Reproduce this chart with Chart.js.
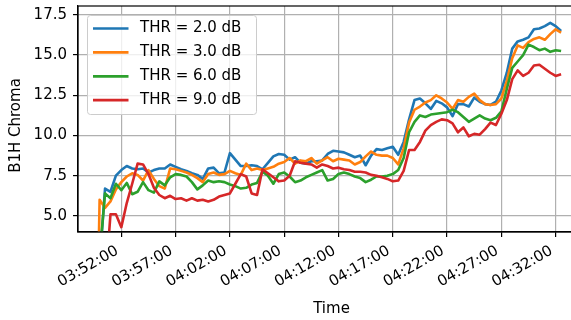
<!DOCTYPE html>
<html>
<head>
<meta charset="utf-8">
<title>B1H Chroma</title>
<script src="https://cdn.jsdelivr.net/npm/chart.js@4.4.0/dist/chart.umd.min.js"></script>
<style>
  html, body { margin: 0; padding: 0; overflow: hidden; background: #fff; }
  #chroma { display: block; }
</style>
</head>
<body>
<canvas id="chroma" width="600" height="320"></canvas>
<script>
// samples every 30 s, first one at 03:49:30
const firstSample = '03:49:30';
const sampleStep = 0.5; // minutes

const tickLabels = ['03:52:00', '03:57:00', '04:02:00', '04:07:00', '04:12:00',
                    '04:17:00', '04:22:00', '04:27:00', '04:32:00'];
const yTicks = [5.0, 7.5, 10.0, 12.5, 15.0, 17.5];

const seriesLabels = ['THR = 2.0 dB', 'THR = 3.0 dB', 'THR = 6.0 dB', 'THR = 9.0 dB'];
const seriesColors = ['#1f77b4', '#ff7f0e', '#2ca02c', '#d62728'];

const thr2 = [null,
  2.0, 6.7, 6.5, 7.5, 7.85, 8.1, 7.95, 7.9, 7.95, 7.7, 7.85, 7.95, 7.95, 8.2, 8.05,
  7.9, 7.8, 7.65, 7.55, 7.3, 7.95, 8.0, 7.65, 7.7, 8.9,
  8.5, 8.1, 8.1, 8.15, 8.1, 7.9, 8.3, 8.7, 8.85, 8.8,
  8.5, 8.65, 8.3, 8.25, 8.4, 8.4, 8.45, 8.85, 9.05, 9.0,
  8.95, 8.8, 8.65, 8.75, 8.15, 8.75, 9.15, 9.1, 9.2, 9.3,
  8.8, 9.6, 11.0, 12.2, 12.3, 12.0, 11.65, 12.15, 12.0, 11.75,
  11.2, 11.95, 11.95, 11.8, 12.35, 12.1, 11.95, 11.9, 12.1, 12.8,
  13.9, 15.4, 15.85, 15.95, 16.1, 16.6, 16.65, 16.8, 17.0, 16.8,
  16.5];

const thr3 = [-12,
  6.0, 5.5, 5.9, 6.65, 7.1, 7.45, 7.65, 7.55, 7.2, 7.85, 7.3, 6.85, 6.7, 7.95, 7.9,
  7.8, 7.7, 7.55, 7.35, 7.1, 7.6, 7.7, 7.55, 7.6, 7.8,
  7.65, 7.55, 8.25, 7.85, 7.95, 7.85, 7.95, 8.05, 8.25, 8.35,
  8.6, 8.25, 8.45, 8.4, 8.6, 8.25, 8.45, 8.65, 8.4, 8.55,
  8.5, 8.45, 8.2, 8.35, 8.7, 9.0, 8.8, 8.75, 8.75, 8.6,
  8.2, 9.2, 10.8, 11.6, 11.8, 12.05, 12.2, 12.5, 12.3, 12.05,
  11.65, 12.2, 12.1, 12.4, 12.6, 12.2, 11.95, 11.9, 11.95, 12.3,
  13.4, 14.8, 15.6, 15.45, 15.8, 16.0, 16.1, 15.95, 16.3, 16.6,
  16.4];

const thr6 = [null,
  2.5, 6.4, 6.1, 7.0, 6.6, 7.05, 6.35, 6.5, 7.1, 6.6, 6.45, 7.15, 6.9, 7.4, 7.6,
  7.55, 7.45, 7.1, 6.65, 6.9, 7.2, 7.1, 7.15, 7.1, 6.95,
  6.85, 6.7, 6.75, 6.95, 7.05, 7.75, 7.5, 7.0, 7.6, 7.7,
  7.45, 7.1, 7.2, 7.4, 7.55, 7.7, 7.85, 7.2, 7.3, 7.6,
  7.7, 7.6, 7.45, 7.35, 7.1, 7.25, 7.45, 7.45, 7.5, 7.6,
  7.85, 8.6, 10.2, 10.85, 11.25, 11.15, 11.3, 11.35, 11.4, 11.45,
  11.6, 11.45, 11.15, 10.85, 11.05, 11.25, 11.05, 10.95, 11.1, 11.5,
  12.9, 14.2, 14.6, 15.0, 15.65, 15.5, 15.3, 15.4, 15.2, 15.3,
  15.25];

const thr9 = [null,
  0.0, 0.5, 5.1, 5.1, 4.3, 5.8, 7.0, 8.25, 8.2, 7.6, 6.75, 6.3, 6.1, 6.25, 6.05,
  6.1, 5.95, 6.1, 5.95, 6.0, 5.9, 6.0, 6.2, 6.3, 6.4,
  7.0, 7.6, 7.45, 6.4, 6.3, 7.9, 7.65, 7.4, 7.15, 7.2,
  7.5, 8.4, 8.3, 8.25, 8.2, 8.0, 8.2, 8.1, 7.95, 8.0,
  7.9, 7.85, 7.75, 7.75, 7.7, 7.55, 7.5, 7.4, 7.3, 7.15,
  7.2, 7.8, 9.1, 9.1, 9.6, 10.3, 10.65, 10.85, 11.0, 10.95,
  10.75, 10.2, 10.5, 9.95, 10.1, 10.05, 10.4, 10.8, 10.65, 11.35,
  12.2, 13.5, 14.05, 13.7, 13.9, 14.35, 14.4, 14.15, 13.9, 13.7,
  13.8];

const series = [thr2, thr3, thr6, thr9];

// x axis works in minutes after the first tick (03:52:00)
function toMinutes(hms) {
  const [h, m, s] = hms.split(':').map(Number);
  return h * 60 + m + s / 60;
}
const origin = toMinutes(tickLabels[0]);
const tickValues = tickLabels.map(l => toMinutes(l) - origin);
const sampleTimes = thr2.map((_, i) => toMinutes(firstSample) - origin + i * sampleStep);

function points(values) {
  return values.map((v, i) => ({ x: sampleTimes[i], y: v }));
}

const frame = {
  id: 'frame',
  afterDatasetsDraw(chart) {
    const { ctx, chartArea: a } = chart;
    ctx.save();
    ctx.strokeStyle = '#000';
    ctx.lineWidth = 1.2;
    ctx.strokeRect(a.left, a.top, a.right - a.left, a.bottom - a.top);
    ctx.restore();
  }
};

// y axis title, drawn by hand so it sits a little below the axis middle
const yTitle = {
  id: 'yTitle',
  afterDraw(chart) {
    const ctx = chart.ctx;
    ctx.save();
    ctx.translate(16, 125.5);
    ctx.rotate(-Math.PI / 2);
    ctx.font = '15px "DejaVu Sans"';
    ctx.fillStyle = '#000';
    ctx.textAlign = 'center';
    ctx.textBaseline = 'middle';
    ctx.fillText('B1H Chroma', 0, 0);
    ctx.restore();
  }
};

const legendBox = {
  id: 'legendBox',
  afterDraw(chart) {
    const ctx = chart.ctx;
    const x = 87.5, y = 15.5, w = 169, h = 99;
    ctx.save();
    ctx.beginPath();
    ctx.roundRect(x, y, w, h, 3);
    ctx.fillStyle = 'rgba(255,255,255,0.8)';
    ctx.fill();
    ctx.strokeStyle = '#cccccc';
    ctx.lineWidth = 1;
    ctx.stroke();
    ctx.font = '15px "DejaVu Sans"';
    ctx.textBaseline = 'middle';
    ctx.fillStyle = '#000';
    seriesLabels.forEach((label, i) => {
      const rowY = y + 13 + i * 23.9;
      ctx.beginPath();
      ctx.moveTo(x + 5.5, rowY);
      ctx.lineTo(x + 41, rowY);
      ctx.strokeStyle = seriesColors[i];
      ctx.lineWidth = 2.7;
      ctx.stroke();
      ctx.fillText(label, x + 52.5, rowY);
    });
    ctx.restore();
  }
};

Chart.defaults.font.family = "'DejaVu Sans'";
Chart.defaults.font.size = 15;
Chart.defaults.color = '#000';

new Chart(document.getElementById('chroma'), {
  type: 'line',
  data: {
    datasets: series.map((vals, i) => ({
      label: seriesLabels[i],
      data: points(vals),
      borderColor: seriesColors[i],
      backgroundColor: seriesColors[i],
      borderWidth: 2.6,
      borderJoinStyle: 'round',
      pointRadius: 0,
      tension: 0,
      fill: false,
      order: series.length - i
    }))
  },
  options: {
    responsive: false,
    animation: false,
    devicePixelRatio: 1,
    layout: { padding: { top: 6, right: 15, bottom: 0, left: 0 } },
    plugins: {
      legend: { display: false },
      tooltip: { enabled: false }
    },
    scales: {
      x: {
        type: 'linear',
        min: -3.99,
        max: 42.7,
        grid: { color: '#b0b0b0', lineWidth: 1.2, tickColor: '#000', tickLength: 5, tickWidth: 1.2 },
        border: { color: '#000', width: 1.2 },
        ticks: {
          autoSkip: false,
          minRotation: 30,
          maxRotation: 30,
          padding: 5,
          labelOffset: -4,
          callback: (value) => tickLabels[tickValues.indexOf(value)]
        },
        title: { display: true, text: 'Time', padding: { top: 4, bottom: 2 } },
        afterBuildTicks: (scale) => { scale.ticks = tickValues.map(v => ({ value: v })); },
        afterFit: (scale) => { scale.height = 88; scale.paddingLeft = 0; scale.paddingRight = 0; }
      },
      y: {
        min: 4.0,
        max: 18.05,
        grid: { color: '#b0b0b0', lineWidth: 1.2, tickColor: '#000', tickLength: 5, tickWidth: 1.2 },
        border: { color: '#000', width: 1.2 },
        ticks: {
          padding: 6,
          callback: (value) => value.toFixed(1)
        },
        afterBuildTicks: (scale) => { scale.ticks = yTicks.map(v => ({ value: v })); },
        afterFit: (scale) => { scale.width = 78; scale.paddingTop = 0; scale.paddingBottom = 0; }
      }
    }
  },
  plugins: [frame, yTitle, legendBox]
});
</script>
</body>
</html>
